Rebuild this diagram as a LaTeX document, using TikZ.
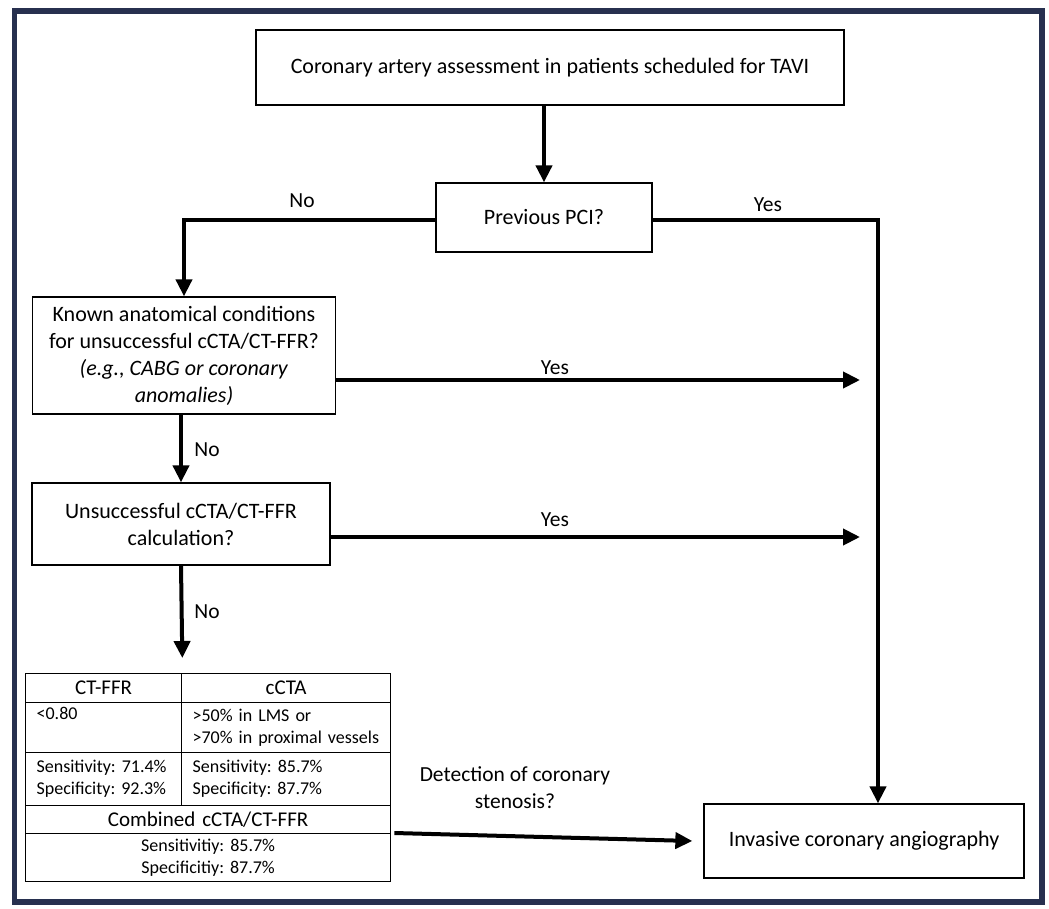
\documentclass[tikz,border=0pt]{standalone}
\usepackage{fontspec}
\setmainfont{Carlito}
\usetikzlibrary{arrows.meta}

\definecolor{framenavy}{HTML}{27304F}
\frenchspacing

\begin{document}
\begin{tikzpicture}[x=1pt, y=-1pt,
  box/.style={draw, line width=1.3pt, align=center, inner sep=0pt, font=\fontsize{22}{27}\selectfont},
  cell/.style={draw, line width=1.3pt, inner xsep=11pt, inner ysep=0pt, anchor=north west, font=\fontsize{18}{22}\selectfont},
  flow/.style={line width=4pt, -{Triangle[length=17pt,width=16pt]}},
  lbl/.style={font=\fontsize{21.5}{27}\selectfont}]
		\useasboundingbox (0,0) rectangle (1049,909);
		\draw[framenavy, line width=5.5pt] (14.5,11) rectangle (1042,902);

		\node[box, minimum width=588pt, minimum height=75pt] (assess) at (550,67.5) {Coronary artery assessment in patients scheduled for TAVI};
		\node[box, minimum width=216pt, minimum height=69pt] (pci) at (544,217.5) {Previous PCI?};
		\node[box, minimum width=303pt, minimum height=117pt] (known) at (184,355.5) {Known anatomical conditions\\for unsuccessful cCTA/CT-FFR?\\\textit{(e.g., CABG or coronary}\\\textit{anomalies)}};
		\node[box, minimum width=298pt, minimum height=82pt] (fail) at (181,524) {Unsuccessful cCTA/CT-FFR\\calculation?};
		\node[box, minimum width=320pt, minimum height=74pt] (ica) at (864,841) {Invasive coronary angiography};

		\node[cell, text width=134pt, minimum height=29pt, align=center, font=\fontsize{21}{27}\selectfont] (h1) at (25,673) {CT-FFR};
		\node[cell, text width=187pt, minimum height=29pt, align=center, font=\fontsize{21}{27}\selectfont] (h2) at (181,673) {cCTA};
		\node[cell, text width=134pt, minimum height=50pt, align=left] (r1a) at (25,702) {<0.80\\\strut};
		\node[cell, text width=187pt, minimum height=50pt, align=left] (r1b) at (181,702) {>50\% in LMS or\\>70\% in proximal vessels};
		\node[cell, text width=134pt, minimum height=53pt, align=left] (r2a) at (25,752) {Sensitivity: 71.4\%\\Specificity: 92.3\%};
		\node[cell, text width=187pt, minimum height=53pt, align=left] (r2b) at (181,752) {Sensitivity: 85.7\%\\Specificity: 87.7\%};
		\node[cell, text width=343pt, minimum height=28pt, align=center, font=\fontsize{21}{27}\selectfont] (comb) at (25,805) {Combined cCTA/CT-FFR};
		\node[cell, text width=343pt, minimum height=48pt, align=center] (combv) at (25,833) {Sensitivitiy: 85.7\%\\Specificitiy: 87.7\%};

		\coordinate (yes1) at (860,380);
		\coordinate (yes2) at (860,537);

		\draw[flow] (assess.south -| pci.north) -- (pci.north);
		\draw[flow] ([yshift=-2.5pt]pci.west) -| (known.north);
		\draw[flow] ([yshift=-2.5pt]pci.east) -| ([xshift=14pt]ica.north);
		\draw[flow] (known.east |- yes1) -- (yes1);
		\draw[flow] (fail.north |- known.south) -- (fail.north);
		\draw[flow] (fail.east |- yes2) -- (yes2);
		\draw[flow] (fail.south) -- ([yshift=15pt]h1.north east);
		\draw[flow] ([xshift=3pt]combv.north east) -- ([xshift=-11pt]ica.west);

		\node[lbl] (no1) at (302,201) {No};
		\node[lbl] (yes0) at (768,205) {Yes};
		\node[lbl] (yes1l) at (555,368) {Yes};
		\node[lbl] (no2) at (207,450) {No};
		\node[lbl] (yes2l) at (555,520) {Yes};
		\node[lbl] (no3) at (207,612) {No};
		\node[lbl, align=center] (detect) at (515,788) {Detection of coronary\\stenosis?};
\end{tikzpicture}
\end{document}
